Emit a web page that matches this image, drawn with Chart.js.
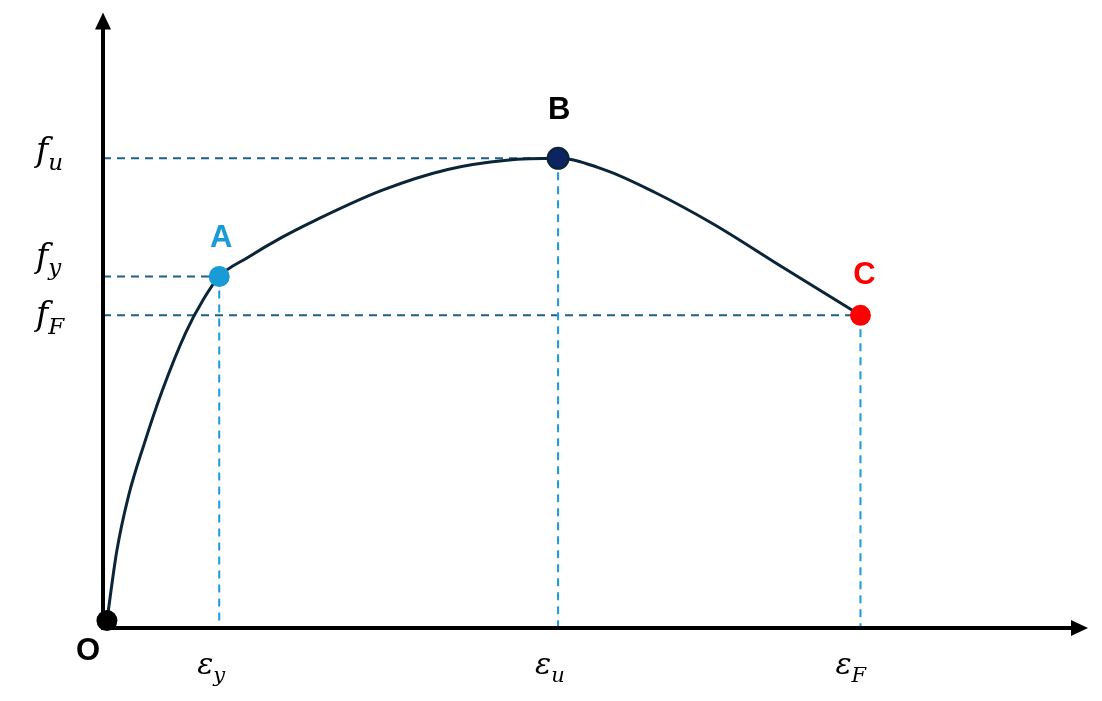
<!DOCTYPE html>
<html>
<head>
<meta charset="utf-8">
<script src="https://cdn.jsdelivr.net/npm/chart.js@4.4.1/dist/chart.umd.min.js"></script>
<style>
  html, body { margin: 0; padding: 0; background: #fff; }
  #wrap { width: 1102px; height: 701px; position: relative; }
</style>
</head>
<body>
<div id="wrap"><canvas id="ssChart"></canvas></div>
<script>
// stress-strain curve (arbitrary units 0..100)
var curveStrain = [0.4, 1.4, 2.6, 4.2, 6.0, 8.4, 10.2, 11.8, 14.7, 18.2, 21.5, 28.3, 35.0, 41.0, 46.2, 51.0, 56.0, 62.0, 69.0, 76.9];
var curveStress = [1.2, 12.5, 21.5, 30.0, 38.5, 48.0, 53.4, 57.1, 60.2, 63.5, 66.2, 71.1, 74.5, 76.0, 76.3, 74.4, 70.8, 65.6, 58.6, 50.8];

// key points
var pointNames  = ['O', 'A', 'B', 'C'];
var pointStrain = [0.4, 11.8, 46.2, 76.9];
var pointStress = [1.2, 57.1, 76.3, 50.8];
var pointColors = ['#000000', '#189bd6', '#0c2461', '#ff0000'];

// axis labels (symbol, subscript) for A, B, C
var stressLabels = [['f', 'y'], ['f', 'u'], ['f', 'F']];
var strainLabels = [['\u03b5', 'y'], ['\u03b5', 'u'], ['\u03b5', 'F']];

var guideSets = [];
for (var i = 1; i < pointNames.length; i++) {
    guideSets.push({
        type: 'line',
        data: [{ x: 0, y: pointStress[i] }, { x: pointStrain[i], y: pointStress[i] }],
        borderColor: '#1d6088',
        borderWidth: 2,
        borderDash: [8, 6],
        pointRadius: 0,
        order: 3
    });
    guideSets.push({
        type: 'line',
        data: [{ x: pointStrain[i], y: pointStress[i] }, { x: pointStrain[i], y: 0 }],
        borderColor: '#1b9ad6',
        borderWidth: 2,
        borderDash: [8, 6],
        pointRadius: 0,
        order: 3
    });
}

function drawSub(ctx, main, sub, x, y, size) {
    ctx.font = 'italic ' + size + 'px "DejaVu Serif"';
    ctx.textAlign = 'left';
    ctx.textBaseline = 'alphabetic';
    ctx.fillText(main, x, y);
    var w = ctx.measureText(main).width;
    ctx.font = 'italic ' + Math.round(size * 0.7) + 'px "DejaVu Serif"';
    ctx.fillText(sub, x + w, y + size * 0.25);
}

var annotate = {
    id: 'annotate',
    afterDatasetsDraw: function(chart) {
        var ctx = chart.ctx, xs = chart.scales.x, ys = chart.scales.y;
        var x0 = xs.getPixelForValue(0), y0 = ys.getPixelForValue(0);
        var xEnd = xs.right, yEnd = ys.top;
        ctx.save();
        ctx.strokeStyle = '#000';
        ctx.fillStyle = '#000';
        ctx.lineWidth = 4;
        ctx.beginPath();
        ctx.moveTo(x0, y0);
        ctx.lineTo(x0, yEnd + 14);
        ctx.moveTo(x0 - 2, y0);
        ctx.lineTo(xEnd - 14, y0);
        ctx.stroke();
        ctx.beginPath();
        ctx.moveTo(x0, yEnd);
        ctx.lineTo(x0 - 8, yEnd + 17);
        ctx.lineTo(x0 + 8, yEnd + 17);
        ctx.closePath();
        ctx.fill();
        ctx.beginPath();
        ctx.moveTo(xEnd, y0);
        ctx.lineTo(xEnd - 17, y0 - 8);
        ctx.lineTo(xEnd - 17, y0 + 8);
        ctx.closePath();
        ctx.fill();
        ctx.restore();
    },
    afterDraw: function(chart) {
        var ctx = chart.ctx, xs = chart.scales.x, ys = chart.scales.y;
        ctx.save();
        // point letters
        var offs = [[-19, 31], [2, -38], [1, -48], [4, -40]];
        ctx.font = 'bold 31px "Liberation Sans"';
        ctx.textAlign = 'center';
        ctx.textBaseline = 'middle';
        for (var i = 0; i < pointNames.length; i++) {
            ctx.fillStyle = i === 0 || i === 2 ? '#000' : pointColors[i];
            ctx.fillText(pointNames[i], xs.getPixelForValue(pointStrain[i]) + offs[i][0],
                         ys.getPixelForValue(pointStress[i]) + offs[i][1]);
        }
        // stress labels on the left, strain labels below
        ctx.fillStyle = '#000';
        var stressDy = [-10, 3, 10];
        var strainDx = [-22, -23, -25];
        for (var j = 0; j < 3; j++) {
            drawSub(ctx, stressLabels[j][0], stressLabels[j][1], 36,
                    ys.getPixelForValue(pointStress[j + 1]) + stressDy[j], 33);
            drawSub(ctx, strainLabels[j][0], strainLabels[j][1],
                    xs.getPixelForValue(pointStrain[j + 1]) + strainDx[j], 674, 30);
        }
        ctx.restore();
    }
};

var curveData = curveStrain.map(function(v, k) { return { x: v, y: curveStress[k] }; });
var dotData = pointStrain.map(function(v, k) { return { x: v, y: pointStress[k] }; });

new Chart(document.getElementById('ssChart'), {
    type: 'scatter',
    data: {
        datasets: [{
            type: 'scatter',
            data: dotData,
            pointRadius: 10.5,
            pointBackgroundColor: pointColors,
            pointBorderColor: ['#000000', '#189bd6', '#0b2436', '#ff0000'],
            pointBorderWidth: [0, 0, 2, 0],
            clip: false,
            order: 0
        }, {
            type: 'line',
            data: curveData,
            borderColor: '#0b2538',
            borderWidth: 3,
            cubicInterpolationMode: 'monotone',
            pointRadius: 0,
            clip: false,
            order: 1
        }].concat(guideSets)
    },
    options: {
        responsive: true,
        maintainAspectRatio: false,
        animation: false,
        layout: { padding: { left: 103, right: 14, top: 12, bottom: 73 } },
        plugins: { legend: { display: false }, tooltip: { enabled: false } },
        scales: {
            x: { type: 'linear', min: 0, max: 100, display: false },
            y: { type: 'linear', min: 0, max: 100, display: false }
        }
    },
    plugins: [annotate]
});
</script>
</body>
</html>
